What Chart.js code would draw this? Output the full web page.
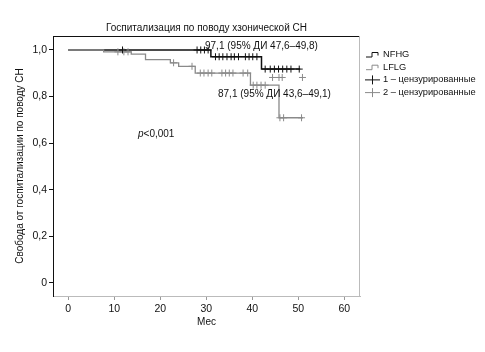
<!DOCTYPE html>
<html>
<head>
<meta charset="utf-8">
<script src="https://cdn.jsdelivr.net/npm/chart.js@4"></script>
<style>
  body { margin: 0; background: #fff; }
</style>
</head>
<body>
<canvas id="kmChart" width="485" height="352"></canvas>
<script>
// step points (month, survival)
const nfhgMonths = [0, 31.0, 42.0, 50.4];
const nfhgSurv   = [1.0, 0.971, 0.918, 0.918];
const lflgMonths = [0, 7.7, 13.7, 16.8, 22.2, 24.0, 27.6, 39.6, 45.8, 51.0];
const lflgSurv   = [1.0, 0.992, 0.982, 0.959, 0.945, 0.930, 0.901, 0.849, 0.709, 0.709];

// censored cases
const cens1Months = [11.8, 28.0, 28.8, 29.6, 30.4,
  32.0, 32.8, 33.6, 34.5, 35.4, 36.1, 37.0, 38.5, 39.3, 40.1, 41.0,
  42.8, 43.9, 44.8, 45.7, 46.6, 47.5, 48.4, 50.2];
const cens1Surv = [1.0, 1.0, 1.0, 1.0, 1.0,
  0.971, 0.971, 0.971, 0.971, 0.971, 0.971, 0.971, 0.971, 0.971, 0.971, 0.971,
  0.918, 0.918, 0.918, 0.918, 0.918, 0.918, 0.918, 0.918];
const cens2Months = [10.8, 12.1, 13.0, 22.9, 26.9,
  28.7, 29.5, 30.4, 31.2, 33.4, 34.2, 35.0, 35.8, 38.0, 39.0,
  40.2, 41.0, 41.9, 42.8, 44.4, 45.8, 46.5, 50.9, 46.0, 46.8, 50.7];
const cens2Surv = [0.992, 0.992, 0.992, 0.945, 0.930,
  0.901, 0.901, 0.901, 0.901, 0.901, 0.901, 0.901, 0.901, 0.901, 0.901,
  0.849, 0.849, 0.849, 0.849, 0.882, 0.882, 0.882, 0.882, 0.709, 0.709, 0.709];

const xTicks = [0, 10, 20, 30, 40, 50, 60];
const yTicks = [0, 0.2, 0.4, 0.6, 0.8, 1.0];
const yTickLabels = ["0", "0,2", "0,4", "0,6", "0,8", "1,0"];

const legendItems = ["NFHG", "LFLG", "1 – цензурированные", "2 – цензурированные"];

const FONT = "'Liberation Sans', Arial, sans-serif";
const BLACK = "#111";
const GRAY = "#8a8a8a";

const pts = (xs, ys) => xs.map((x, i) => ({ x: x, y: ys[i] }));

// frame, annotations and legend
const extras = {
  id: "extras",
  beforeDatasetsDraw(chart) {
    const { ctx, chartArea: a } = chart;
    ctx.save();
    ctx.lineWidth = 1;
    ctx.strokeStyle = BLACK;
    ctx.beginPath();
    ctx.moveTo(a.left, a.top + 0.5);
    ctx.lineTo(a.right, a.top + 0.5);
    ctx.stroke();
    ctx.strokeStyle = "#bbb";
    ctx.beginPath();
    ctx.moveTo(a.right - 0.5, a.top);
    ctx.lineTo(a.right - 0.5, a.bottom);
    ctx.stroke();
    ctx.restore();
  },
  afterDraw(chart) {
    const { ctx } = chart;
    ctx.save();
    ctx.fillStyle = BLACK;
    ctx.textBaseline = "middle";
    ctx.font = "10px " + FONT;
    ctx.fillText("97,1 (95% ДИ 47,6–49,8)", 205, 46);
    ctx.fillText("87,1 (95% ДИ 43,6–49,1)", 218, 94);
    ctx.font = "italic 10px " + FONT;
    ctx.fillText("p", 138, 134);
    const pw = ctx.measureText("p").width;
    ctx.font = "10px " + FONT;
    ctx.fillText("<0,001", 138 + pw, 134);

    // legend
    ctx.font = "9.3px " + FONT;
    legendItems.forEach((label, i) => {
      const y = 54 + i * 12.7;
      ctx.lineWidth = 1;
      ctx.strokeStyle = (i % 2 === 0) ? BLACK : GRAY;
      ctx.beginPath();
      if (i < 2) {
        ctx.moveTo(366, y + 3);
        ctx.lineTo(372, y + 3);
        ctx.lineTo(372, y - 1.5);
        ctx.lineTo(378, y - 1.5);
        ctx.lineTo(378, y + 1.5);
      } else {
        ctx.moveTo(365, y + 0.5);
        ctx.lineTo(380, y + 0.5);
        ctx.moveTo(372.5, y - 4);
        ctx.lineTo(372.5, y + 5);
      }
      ctx.stroke();
      ctx.fillStyle = BLACK;
      ctx.fillText(label, 383, y + 0.5);
    });
    ctx.restore();
  }
};

new Chart(document.getElementById("kmChart"), {
  type: "scatter",
  data: {
    datasets: [
      {
        label: "LFLG",
        type: "line",
        data: pts(lflgMonths, lflgSurv),
        stepped: "before",
        borderColor: GRAY,
        borderWidth: 1.3,
        pointRadius: 0,
        fill: false,
        order: 1
      },
      {
        label: "NFHG",
        type: "line",
        data: pts(nfhgMonths, nfhgSurv),
        stepped: "before",
        borderColor: BLACK,
        borderWidth: 1.5,
        pointRadius: 0,
        fill: false,
        order: 2
      },
      {
        label: "1 – цензурированные",
        data: pts(cens1Months, cens1Surv),
        pointStyle: "cross",
        pointRadius: 3.5,
        borderColor: BLACK,
        borderWidth: 1,
        order: 0
      },
      {
        label: "2 – цензурированные",
        data: pts(cens2Months, cens2Surv),
        pointStyle: "cross",
        pointRadius: 3.5,
        borderColor: GRAY,
        borderWidth: 1,
        order: 0
      }
    ]
  },
  options: {
    responsive: false,
    animation: false,
    layout: { padding: { top: 0, right: 125, bottom: 0, left: 0 } },
    plugins: {
      legend: { display: false },
      tooltip: { enabled: false },
      title: {
        display: true,
        fullSize: false,
        text: "Госпитализация по поводу хзонической СН",
        color: BLACK,
        font: { family: FONT, size: 10, weight: "normal" },
        padding: { top: 22, bottom: 2 }
      }
    },
    scales: {
      x: {
        type: "linear",
        min: -3.3,
        max: 63.4,
        afterBuildTicks: s => { s.ticks = xTicks.map(v => ({ value: v })); },
        afterFit: s => { s.height = 56; },
        grid: { drawOnChartArea: false, tickLength: 4, color: "#999" },
        border: { color: "#bbb", width: 1 },
        ticks: { color: BLACK, padding: 3, maxRotation: 0, font: { family: FONT, size: 10.5 } },
        title: {
          display: true,
          text: "Мес",
          color: BLACK,
          font: { family: FONT, size: 10 },
          padding: { top: 0, bottom: 24 }
        }
      },
      y: {
        min: -0.056,
        max: 1.06,
        afterBuildTicks: s => { s.ticks = yTicks.map(v => ({ value: v })); },
        afterFit: s => { s.width = 53; },
        grid: { drawOnChartArea: false, tickLength: 4, color: BLACK },
        border: { color: BLACK, width: 1 },
        ticks: {
          color: BLACK,
          padding: 2,
          font: { family: FONT, size: 10.5 },
          callback: (v, i) => yTickLabels[i]
        },
        title: {
          display: true,
          text: "Свобода от госпитализации по поводу СН",
          color: BLACK,
          font: { family: FONT, size: 10 },
          padding: { top: 14, bottom: 0 }
        }
      }
    }
  },
  plugins: [extras]
});
</script>
</body>
</html>
